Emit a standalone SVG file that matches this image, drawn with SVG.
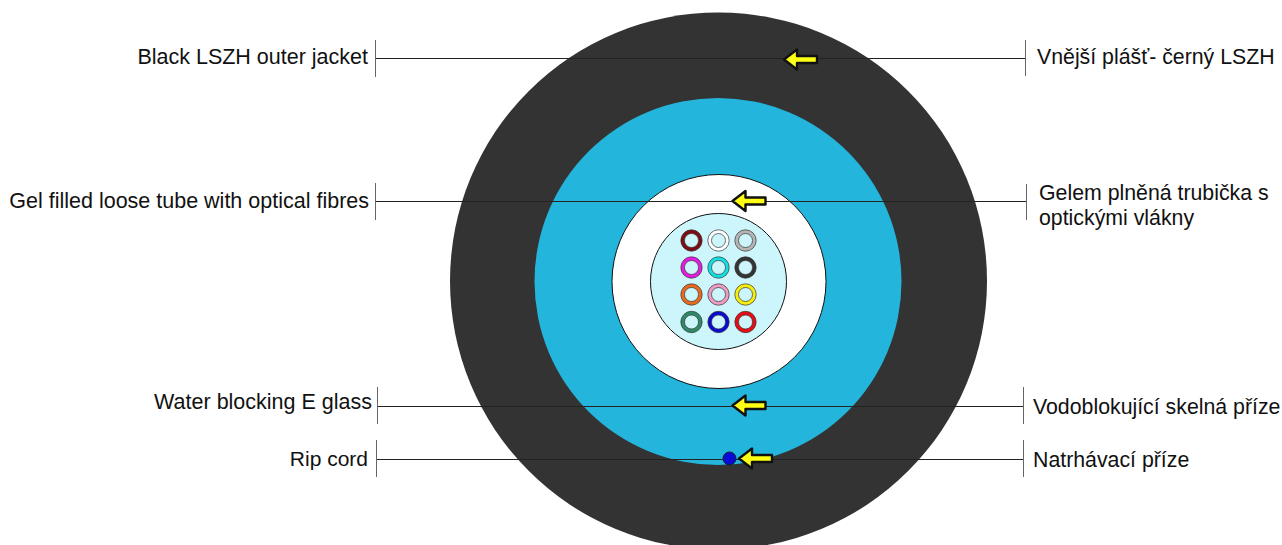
<svg xmlns="http://www.w3.org/2000/svg" width="1282" height="545" viewBox="0 0 1282 545">
<style>
text{font-family:"Liberation Sans",Arial,sans-serif;font-size:21.500px;fill:#111}
.cs{font-size:21.300px}
.l{fill:none;stroke:#222;stroke-width:1}
.t{fill:none;stroke:#666;stroke-width:1}
.f{fill:none;stroke-width:3.600}
.fo{fill:none;stroke:#333;stroke-width:.7}
</style>
<defs>
<path id="arrow" d="M0 0L13 -10V-3.500H33V3.500H13V10Z" fill="#ffff14" stroke="#111" stroke-width="2.400" stroke-linejoin="round"/>
<g id="fibre"><circle r="10.700" class="fo"/><circle r="7" class="fo"/></g>
</defs>
<rect width="1282" height="545" fill="#fff"/>
<g id="jacket"><circle cx="718.500" cy="281" r="268.500" fill="#333"/></g>
<g id="glass"><circle cx="718" cy="281.500" r="183.500" fill="#24b5dc"/></g>
<g id="tube"><circle cx="719" cy="281.500" r="107" fill="#fff" stroke="#111" stroke-width="1"/></g>
<g id="gel"><circle cx="718.500" cy="281.500" r="68" fill="#ccf6fb" stroke="#111" stroke-width="1"/></g>
<g id="fibres">
<g transform="translate(691.500,240.500)"><circle r="8.850" class="f" stroke="#7d0c14"/><use href="#fibre"/></g>
<g transform="translate(718.500,240.500)"><circle r="8.850" class="f" stroke="#fff"/><use href="#fibre"/></g>
<g transform="translate(745.500,240.500)"><circle r="8.850" class="f" stroke="#b5b5b5"/><use href="#fibre"/></g>
<g transform="translate(691.500,267.500)"><circle r="8.850" class="f" stroke="#e61be0"/><use href="#fibre"/></g>
<g transform="translate(718.500,267.500)"><circle r="8.850" class="f" stroke="#14dfe0"/><use href="#fibre"/></g>
<g transform="translate(745.500,267.500)"><circle r="8.850" class="f" stroke="#333"/><use href="#fibre"/></g>
<g transform="translate(691.500,294.500)"><circle r="8.850" class="f" stroke="#ea6a1c"/><use href="#fibre"/></g>
<g transform="translate(718.500,294.500)"><circle r="8.850" class="f" stroke="#ee9cc4"/><use href="#fibre"/></g>
<g transform="translate(745.500,294.500)"><circle r="8.850" class="f" stroke="#f7ee10"/><use href="#fibre"/></g>
<g transform="translate(691.500,322)"><circle r="8.850" class="f" stroke="#2e8a68"/><use href="#fibre"/></g>
<g transform="translate(718.500,322)"><circle r="8.850" class="f" stroke="#0a0ad2"/><use href="#fibre"/></g>
<g transform="translate(745.500,322)"><circle r="8.850" class="f" stroke="#e80c14"/><use href="#fibre"/></g>
</g>
<g id="connectors">
<path class="l" d="M376 58.500H1025M375 201.500H1026M378 406.500H1023M377 459.500H1023"/>
<path class="t" d="M375.500 40V77M1025.500 40V76M375.500 183V220M1026.500 184V220M377.500 387V424M1023.500 387V424M376.500 440V477M1023.500 440V477"/>
</g>
<g id="ripcord"><circle cx="729.500" cy="458.500" r="6.500" fill="#0a0ad6" stroke="#123" stroke-width="1"/></g>
<g id="arrows">
<use href="#arrow" x="784" y="59.500"/>
<use href="#arrow" x="732.500" y="201"/>
<use href="#arrow" x="732.500" y="405.500"/>
<use href="#arrow" x="739" y="458.500"/>
</g>
<g id="label-jacket-en"><text x="368" y="64" text-anchor="end">Black LSZH outer jacket</text></g>
<g id="label-tube-en"><text x="369" y="207.500" text-anchor="end">Gel filled loose tube with optical fibres</text></g>
<g id="label-glass-en"><text x="372" y="409" text-anchor="end">Water blocking E glass</text></g>
<g id="label-rip-en"><text x="368" y="466" text-anchor="end" style="font-size:21px">Rip cord</text></g>
<g id="label-jacket-cs"><text class="cs" x="1037" y="64">Vnější plášť- černý LSZH</text></g>
<g id="label-tube-cs"><text class="cs" x="1039" y="200">Gelem plněná trubička s</text><text class="cs" x="1039" y="225">optickými vlákny</text></g>
<g id="label-glass-cs"><text class="cs" x="1033" y="414">Vodoblokující skelná příze</text></g>
<g id="label-rip-cs"><text class="cs" x="1033" y="466.500">Natrhávací příze</text></g>
</svg>
